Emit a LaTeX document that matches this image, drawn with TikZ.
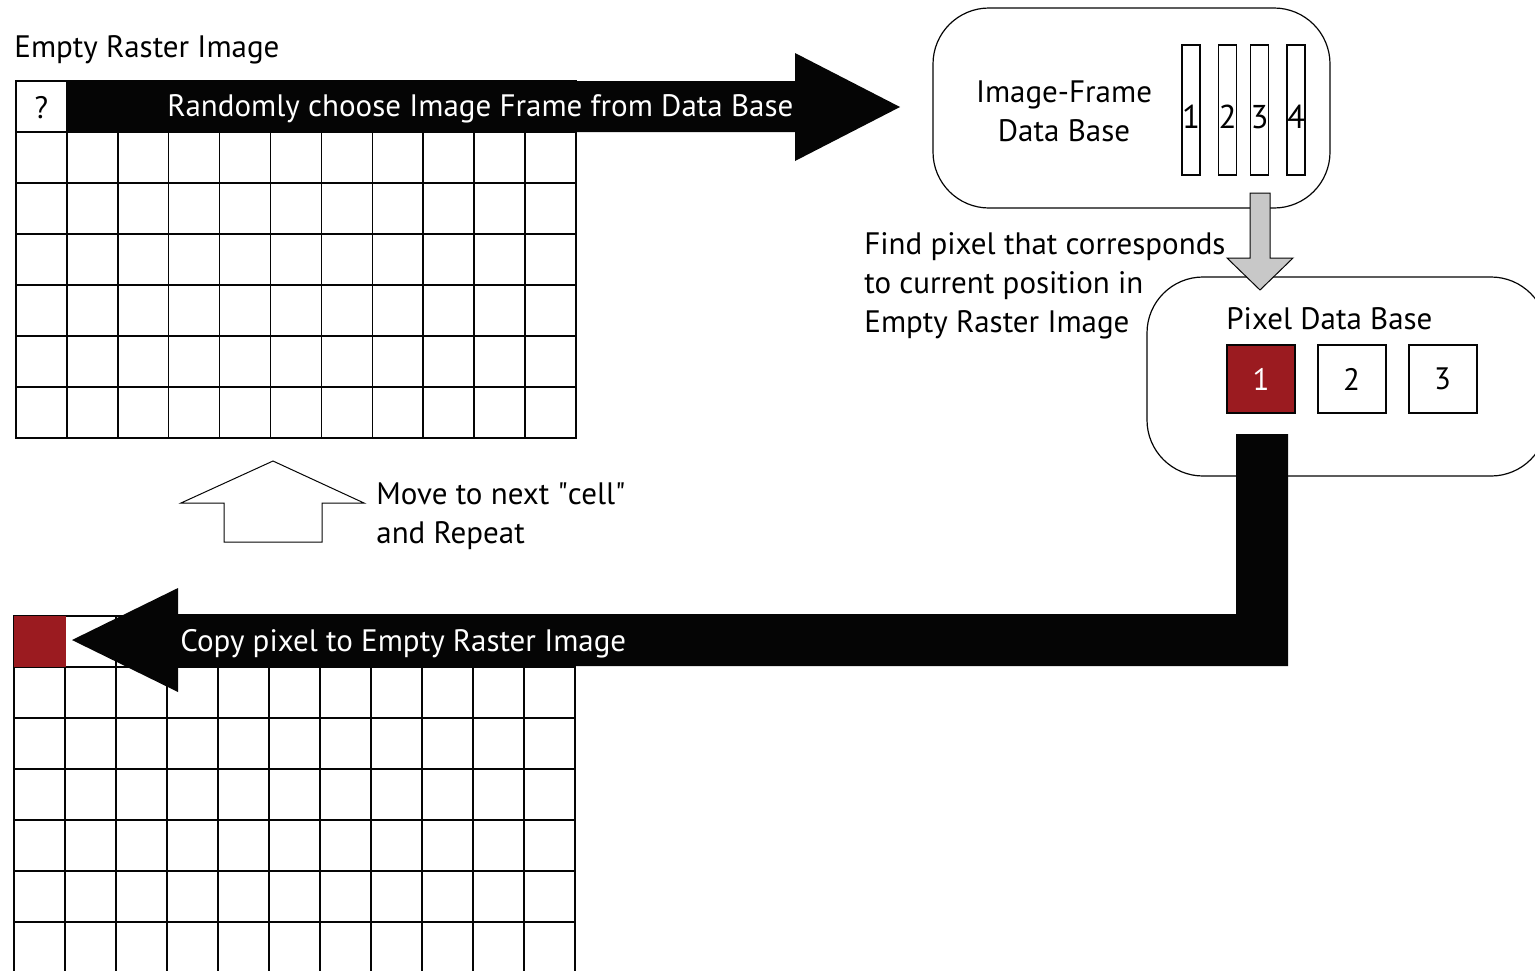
\documentclass[tikz,border=0pt]{standalone}
\usepackage{fontspec}
\setmainfont{PT Sans}
\usetikzlibrary{positioning,calc}
\definecolor{pixred}{RGB}{155,27,32}
\definecolor{ink}{RGB}{5,5,5}
\definecolor{shaft}{RGB}{200,200,200}

\tikzset{
  cell/.style={draw=ink, line width=0.75pt},
  dbbox/.style={draw=ink, line width=0.6pt, rounded corners=28pt, inner sep=0pt},
  strip/.style={draw=ink, line width=0.6pt, minimum width=9pt, minimum height=65pt, inner sep=0pt},
  pixsq/.style={draw=ink, line width=1pt, minimum size=34pt, inner sep=0pt},
  blockarrow/.style={fill=ink, draw=none},
  onbar/.style={text=white, anchor=west, inner sep=0pt},
}

\begin{document}
\begin{tikzpicture}[font=\fontsize{15.5}{19.5}\selectfont, x=0.5pt, y=-0.5pt]
\useasboundingbox (0,0) rectangle (1535,970);

% empty raster image (top)
\node[anchor=west, inner sep=0pt] (emptylbl) at (14,50) {Empty Raster Image};
\foreach \c in {0,...,10}
  \foreach \r in {0,...,6}
    \draw[cell] ({16+50.9*\c},{81+51*\r}) rectangle ++(50.9,51);
\node (quest) at (41.5,108) {?};

% image-frame data base
\node[dbbox, minimum width=198.5pt, minimum height=100pt] (framedb) at (1131.5,108) {};
\node[align=center] (framelbl) at (1064,111) {Image-Frame\\Data Base};
\foreach \i/\x in {1/1191, 2/1227.5, 3/1259.5, 4/1296} {
  \node[strip] (s\i) at (\x,110) {};
  \node[inner sep=0pt, font=\fontsize{16.5}{19.5}\selectfont] (n\i) at ($(s\i)+(0,7)$) {\i};
}

% pixel data base
\node[dbbox, minimum width=200pt, minimum height=99.5pt] (pixdb) at (1347,376.5) {};
\node[anchor=west, inner sep=0pt] (pixlbl) at (1226,319) {Pixel Data Base};
\node[pixsq, fill=pixred, text=white] (p1) at (1261,379) {\raisebox{-1.5pt}{1}};
\node[pixsq] (p2) at (1351.5,379) {\raisebox{-1.5pt}{2}};
\node[pixsq] (p3) at (1442.5,379) {\raisebox{-1.5pt}{3}};

% lookup arrow
\coordinate (gtop) at (1260,193);
\coordinate (gtip) at (1260,290);
\draw[ink, line width=0.5pt, fill=shaft]
  ($(gtop)+(-10,0)$) -- ($(gtop)+(10,0)$) -- ($(gtip)+(10,-32)$) -- ($(gtip)+(33,-32)$)
  -- (gtip) -- ($(gtip)+(-33,-32)$) -- ($(gtip)+(-10,-32)$) -- cycle;
\node[anchor=west, align=left, inner sep=0pt] (findlbl) at (864,286)
  {Find pixel that corresponds\\to current position in\\Empty Raster Image};

% empty raster image (bottom)
\foreach \c in {0,...,10}
  \foreach \r in {0,...,6}
    \draw[cell] ({14+51*\c},{616+51*\r}) rectangle ++(51,51);
\fill[pixred] (14,616) rectangle (66,667);

% repeat arrow
\draw[ink, line width=0.5pt] (181,503) -- (273,461) -- (364,503) -- (322,503)
  -- (322,542) -- (224,542) -- (224,503) -- cycle;
\node[anchor=west, align=left, inner sep=0pt] (movelbl) at (376,516)
  {Move to next \textquotedbl cell\textquotedbl\\and Repeat};

% choose arrow
\fill[blockarrow] (67,81) -- (795,81) -- (795,53) -- (900,107) -- (795,161)
  -- (795,132) -- (67,132) -- cycle;
\node[onbar] (chooselbl) at (167,109) {Randomly choose Image Frame from Data Base};

% copy arrow
\fill[blockarrow] (1236,434) -- (1288,434) -- (1288,666) -- (178,666) -- (178,692)
  -- (72,640) -- (178,588) -- (178,614) -- (1236,614) -- cycle;
\node[onbar] (copylbl) at (180,644) {Copy pixel to Empty Raster Image};
\end{tikzpicture}
\end{document}
